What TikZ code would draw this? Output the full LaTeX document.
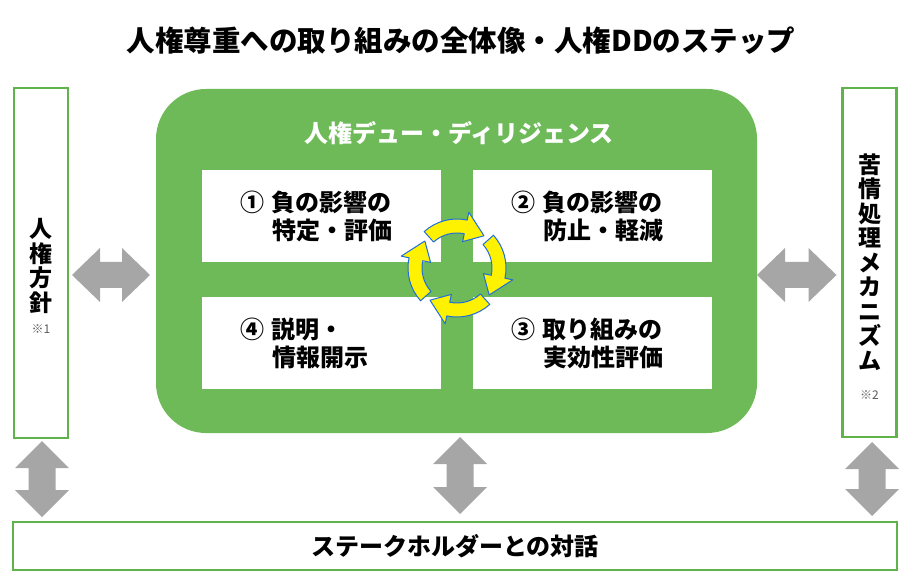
\documentclass[tikz,border=0pt]{standalone}
\usepackage{fontspec}
\setmainfont{Noto Sans CJK JP}
\usetikzlibrary{matrix,calc}

\definecolor{ddgreen}{RGB}{110,186,88}
\definecolor{boxgreen}{RGB}{96,178,74}
\definecolor{arrowgray}{RGB}{166,166,166}
\definecolor{cycleblue}{RGB}{30,110,220}

\newcommand\hdarrow[2]{%
  \fill[arrowgray] (#1) -- ++(28,-27) -- ++(0,14) -- ($(#2)+(-28,-13)$)
    -- ++(0,-14) -- (#2) -- ++(-28,27) -- ++(0,-14) -- ($(#1)+(28,13)$)
    -- ++(0,14) -- cycle;}
\newcommand\vdarrow[2]{%
  \fill[arrowgray] (#1) -- ++(27,27) -- ++(-13.5,0) -- ($(#2)+(13.5,-27)$)
    -- ++(13.5,0) -- (#2) -- ++(-27,-27) -- ++(13.5,0) -- ($(#1)+(-13.5,27)$)
    -- ++(-13.5,0) -- cycle;}

\begin{document}
\begin{tikzpicture}[x=1pt, y=-1pt,
    every node/.style={inner sep=0pt, outer sep=0pt},
    jp/.style={font=\bfseries\fontsize{24}{28}\selectfont},
    sidebox/.style={draw=boxgreen, line width=2.5pt, minimum width=54pt},
    vtext/.style={align=center, font=\bfseries\fontsize{23}{24.5}\selectfont},
    note/.style={font=\fontsize{12}{14}\selectfont, text=black!65},
    stepbox/.style={jp, fill=white, minimum width=239pt, minimum height=92pt,
      text width=163pt, inner xsep=37pt, align=left},
    cyclearrow/.style={fill=yellow, draw=cycleblue, line width=1pt, line join=round}]
    \useasboundingbox (0,0) rectangle (910,585);
    \node (title) [font=\bfseries\fontsize{28.5}{30}\selectfont] at (461,41)
      {人権尊重への取り組みの全体像・人権DDのステップ};
    \node (dd) [fill=ddgreen, rounded corners=50pt, minimum width=601pt,
      minimum height=344pt] at (456.5,261) {};
    \node (ddtitle) [jp, text=white] at (459,133) {人権デュー・ディリジェンス};
    \matrix (steps) [matrix of nodes, nodes={stepbox},
      column sep=32pt, row sep=35pt] at (457,279.5) {
      {① 負の影響の\\\hphantom{① }特定・評価} & {② 負の影響の\\\hphantom{② }防止・軽減} \\
      {④ 説明・\\\hphantom{④ }情報開示}       & {③ 取り組みの\\\hphantom{③ }実効性評価} \\
    };
    \begin{scope}[shift={(457,268)}, yscale=-1]
      \foreach \a in {132,42,-48,-138}
        \filldraw[cyclearrow] (\a:49) arc[start angle=\a, end angle=\a-54, radius=49]
          -- ({\a-54}:57) -- ({\a-82}:42) -- ({\a-54}:27) -- ({\a-54}:35)
          arc[start angle=\a-54, end angle=\a, radius=35] -- cycle;
    \end{scope}
    \node (policy) [sidebox, minimum height=350pt] at (41,263) {};
    \node (policytxt) [vtext] at (41,266) {人\\権\\方\\針};
    \node (note1) [note] at (41,329) {※1};
    \node (grievance) [sidebox, minimum height=349pt] at (869.5,262.5) {};
    \node (grievancetxt) [vtext] at (869.5,262) {苦\\情\\処\\理\\メ\\カ\\ニ\\ズ\\ム};
    \node (note2) [note] at (869.5,395) {※2};
    \node (stake) [sidebox, jp, minimum width=884pt, minimum height=48pt] at (455,546)
      {ステークホルダーとの対話};
    \coordinate (pl1) at ($(policy.east)+(4,12)$);
    \coordinate (pl2) at ($(dd.west)+(-6,14)$);
    \coordinate (gr1) at ($(dd.east)+(0,14)$);
    \coordinate (gr2) at ($(grievance.west)+(-6,12.5)$);
    \coordinate (ps1) at ($(policy.south)+(1,3)$);
    \coordinate (ps2) at ($(policy.south |- stake.north)+(1,-5)$);
    \coordinate (ds1) at ($(dd.south)+(3.5,4)$);
    \coordinate (ds2) at ($(dd.south |- stake.north)+(3.5,-8)$);
    \coordinate (gs1) at ($(grievance.south)+(2.5,5)$);
    \coordinate (gs2) at ($(grievance.south |- stake.north)+(2.5,-6)$);
    \hdarrow{pl1}{pl2}
    \hdarrow{gr1}{gr2}
    \vdarrow{ps1}{ps2}
    \vdarrow{ds1}{ds2}
    \vdarrow{gs1}{gs2}
  \end{tikzpicture}
\end{document}
